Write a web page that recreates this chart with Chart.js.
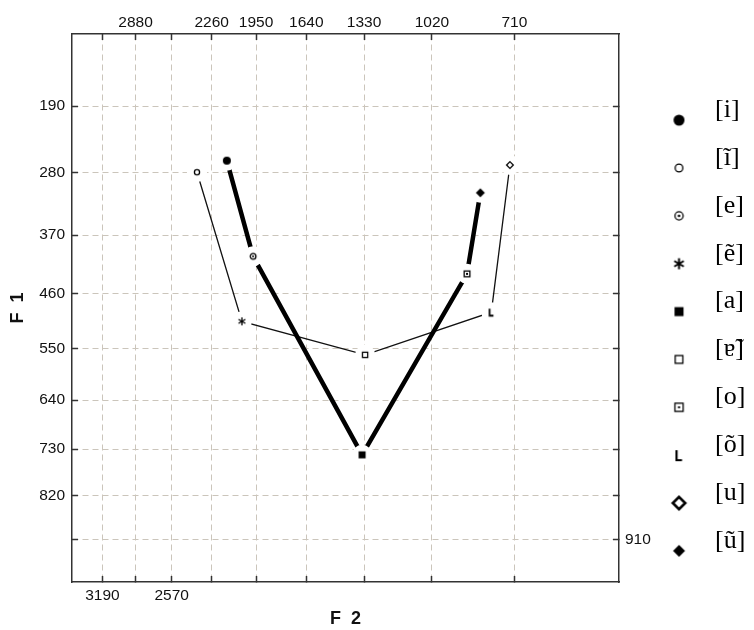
<!DOCTYPE html>
<html>
<head>
<meta charset="utf-8">
<script src="https://cdn.jsdelivr.net/npm/chart.js@4.4.1/dist/chart.umd.min.js"></script>
<style>
  html, body { margin: 0; padding: 0; background: #fff; }
</style>
</head>
<body>
<canvas id="vowelChart" width="754" height="630"></canvas>
<script>
// formants in Hz
const vowels = ["[i]", "[ĩ]", "[e]", "[ẽ]", "[a]", "[ɐ̃]", "[o]", "[õ]", "[u]", "[ũ]"];
const f2 = [2150, 2370, 1970, 2045, 1340, 1325, 880, 790, 725, 830];
const f1 = [263, 279, 402, 505, 741, 561, 429, 490, 269, 308];

// vowels joined by the thick line and by the thin line
const thickPath = [0, 2, 4, 6, 9];
const thinPath = [1, 3, 5, 7, 8];

const f2Ticks = [3190, 2880, 2570, 2260, 1950, 1640, 1330, 1020, 710];
const f2TopLabels = [2880, 2260, 1950, 1640, 1330, 1020, 710];
const f2BottomLabels = [3190, 2570];
const f1Ticks = [190, 280, 370, 460, 550, 640, 730, 820, 910];
const f1LeftLabels = [190, 280, 370, 460, 550, 640, 730, 820];
const f1RightLabels = [910];
const f2Range = [400, 3500];
const f1Range = [100, 1000];

// warped frequency axes (mel-like)
const toX = (hz) => Math.log(1 + hz / 600);
const fromX = (v) => Math.round(600 * (Math.exp(v) - 1));
const toY = (hz) => Math.log(1 + hz / 1000);
const fromY = (v) => Math.round(1000 * (Math.exp(v) - 1));

// marker look per vowel
const markerKinds = ["dot", "ring", "ringdot", "star", "sq", "osq", "dsq", "ell", "odia", "dia"];
const chartSize = { dot: 8, ring: 6.5, ringdot: 7, star: 8, sq: 7, osq: 6.5, dsq: 7, ell: 7, odia: 8, dia: 9 };
const legendSize = { dot: 11, ring: 9, ringdot: 9.5, star: 11, sq: 9, osq: 9, dsq: 9.5, ell: 10, odia: 15, dia: 12 };

function drawMarker(ctx, kind, cx, cy, s, lw) {
  const r = s / 2;
  ctx.fillStyle = "#000";
  ctx.strokeStyle = "#000";
  ctx.lineWidth = lw;
  ctx.beginPath();
  switch (kind) {
    case "dot":
      ctx.arc(cx, cy, r, 0, Math.PI * 2);
      ctx.fill();
      break;
    case "ring":
      ctx.arc(cx, cy, r - lw / 2, 0, Math.PI * 2);
      ctx.stroke();
      break;
    case "ringdot":
      ctx.arc(cx, cy, r - lw / 2, 0, Math.PI * 2);
      ctx.stroke();
      ctx.beginPath();
      ctx.arc(cx, cy, Math.max(1, s / 7), 0, Math.PI * 2);
      ctx.fill();
      break;
    case "star":
      for (const a of [90, 30, 150]) {
        const dx = r * Math.cos((a * Math.PI) / 180);
        const dy = r * Math.sin((a * Math.PI) / 180);
        ctx.moveTo(cx - dx, cy - dy);
        ctx.lineTo(cx + dx, cy + dy);
      }
      ctx.stroke();
      break;
    case "sq":
      ctx.fillRect(cx - r, cy - r, s, s);
      break;
    case "osq":
      ctx.strokeRect(cx - r + lw / 2, cy - r + lw / 2, s - lw, s - lw);
      break;
    case "dsq":
      ctx.strokeRect(cx - r + lw / 2, cy - r + lw / 2, s - lw, s - lw);
      ctx.fillRect(cx - 1, cy - 1, 2, 2);
      break;
    case "ell":
      ctx.moveTo(cx - r * 0.5, cy - r);
      ctx.lineTo(cx - r * 0.5, cy + r);
      ctx.lineTo(cx + r * 0.6, cy + r);
      ctx.stroke();
      break;
    case "odia":
      ctx.moveTo(cx, cy - r + lw / 2);
      ctx.lineTo(cx + r - lw / 2, cy);
      ctx.lineTo(cx, cy + r - lw / 2);
      ctx.lineTo(cx - r + lw / 2, cy);
      ctx.closePath();
      ctx.stroke();
      break;
    case "dia":
      ctx.moveTo(cx, cy - r);
      ctx.lineTo(cx + r, cy);
      ctx.lineTo(cx, cy + r);
      ctx.lineTo(cx - r, cy);
      ctx.closePath();
      ctx.fill();
      break;
  }
}

function makeMarker(kind, s, lw, w, h, dx, dy) {
  const c = document.createElement("canvas");
  c.width = w;
  c.height = h;
  drawMarker(c.getContext("2d"), kind, w / 2 + dx, h / 2 + dy, s, lw);
  return c;
}

const chartMarks = markerKinds.map((k) => makeMarker(k, chartSize[k], k === "ell" ? 1.8 : 1.3, 16, 16, 0, 0));
const legendMarks = markerKinds.map((k) =>
  makeMarker(k, legendSize[k], k === "odia" ? 2.6 : k === "star" ? 2 : k === "ell" ? 2.2 : 1.3, 44, 44, -9.4, 10)
);

const pt = (k) => ({ x: toX(f2[k]), y: toY(f1[k]) });

const datasets = vowels.map((v, k) => ({
  label: v,
  data: [pt(k)],
  pointStyle: chartMarks[k],
  pointRadius: 5,
  showLine: false,
  order: 0,
}));
// white disc behind each marker, leaves the little gap where lines stop
datasets.push({
  label: "gap",
  data: vowels.map((_, k) => pt(k)),
  pointStyle: "circle",
  pointRadius: 10,
  pointBackgroundColor: "#fff",
  pointBorderWidth: 0,
  showLine: false,
  order: 1,
});
datasets.push({
  label: "thick",
  data: thickPath.map(pt),
  showLine: true,
  borderColor: "#000",
  borderWidth: 4.5,
  pointRadius: 0,
  order: 2,
});
datasets.push({
  label: "thin",
  data: thinPath.map(pt),
  showLine: true,
  borderColor: "#111",
  borderWidth: 1.3,
  pointRadius: 0,
  order: 2,
});

const tickFont = { family: "'Liberation Sans', Arial, sans-serif", size: 15.5 };
const titleFont = { family: "'Liberation Sans', Arial, sans-serif", size: 18, weight: "bold" };
const legendFont = { family: "'Liberation Serif', 'DejaVu Serif', serif", size: 26 };
const gridColor = "#cbc5bb";
const axisColor = "#333";

// legend geometry: marker column at x≈679, text from x≈715
const legendPad = 21.86;
const legendBox = 27.14;
const legendLeft = 653;
const measureCtx = document.createElement("canvas").getContext("2d");
measureCtx.font = legendFont.size + "px " + legendFont.family;
const widestLabel = Math.max(...vowels.map((v) => measureCtx.measureText(v).width));
// Chart.js adds 10px to the width of a vertical legend
const legendWidth = legendPad + legendBox + legendFont.size / 2 + widestLabel + 10;
const padRight = 754 - legendLeft - legendWidth;

function freqAxis(position, conv, range, ticksHz, shown, size, pad, grid) {
  const horizontal = position === "top" || position === "bottom";
  return {
    type: "linear",
    position,
    reverse: true,
    min: conv(range[0]),
    max: conv(range[1]),
    afterBuildTicks: (axis) => {
      axis.ticks = ticksHz.map((hz) => ({ value: conv(hz) }));
    },
    afterFit: (axis) => {
      if (horizontal) axis.height = size;
      else axis.width = size;
    },
    ticks: {
      autoSkip: false,
      maxRotation: 0,
      padding: pad,
      color: "#111",
      font: tickFont,
      callback: (v) => {
        const hz = horizontal ? fromX(v) : fromY(v);
        return shown.includes(hz) ? String(hz) : "";
      },
    },
    grid: {
      drawOnChartArea: grid,
      color: gridColor,
      lineWidth: 1,
      tickLength: -6,
      tickColor: axisColor,
      tickWidth: 1.5,
      tickBorderDash: [],
    },
    border: { display: true, color: axisColor, width: 1.5, dash: [6, 4] },
  };
}

const xTop = freqAxis("top", toX, f2Range, f2Ticks, f2TopLabels, 34, 7.5, true);
const xBottom = freqAxis("bottom", toX, f2Range, f2Ticks, f2BottomLabels, 48, 10, false);
xBottom.title = { display: true, text: "F  2", color: "#111", font: titleFont, padding: { top: 0, bottom: 0 } };
const yLeft = freqAxis("left", toY, f1Range, f1Ticks, f1LeftLabels, 72, 13, true);
yLeft.title = { display: true, text: "F  1", color: "#111", font: titleFont, padding: { top: 7.5, bottom: 0 } };
const yRight = freqAxis("right", toY, f1Range, f1Ticks, f1RightLabels, legendLeft - 619, 12, false);

new Chart(document.getElementById("vowelChart").getContext("2d"), {
  type: "scatter",
  data: { datasets },
  options: {
    responsive: false,
    animation: false,
    layout: { padding: { top: 0, right: padRight, bottom: 0, left: 0 } },
    scales: { x: xTop, x2: xBottom, y: yLeft, y2: yRight },
    plugins: {
      tooltip: { enabled: false },
      legend: {
        position: "right",
        // empty title only pushes the column of entries down a little
        title: { display: true, text: "", font: { size: 1 }, padding: { top: 19.8, bottom: 0 } },
        labels: {
          usePointStyle: true,
          pointStyleWidth: legendBox,
          padding: legendPad,
          color: "#000",
          font: legendFont,
          generateLabels: () =>
            vowels.map((v, k) => ({
              text: v,
              pointStyle: legendMarks[k],
              fillStyle: "#000",
              strokeStyle: "#000",
              fontColor: "#000",
              lineWidth: 0,
              hidden: false,
              datasetIndex: k,
            })),
        },
      },
    },
  },
});
</script>
</body>
</html>
